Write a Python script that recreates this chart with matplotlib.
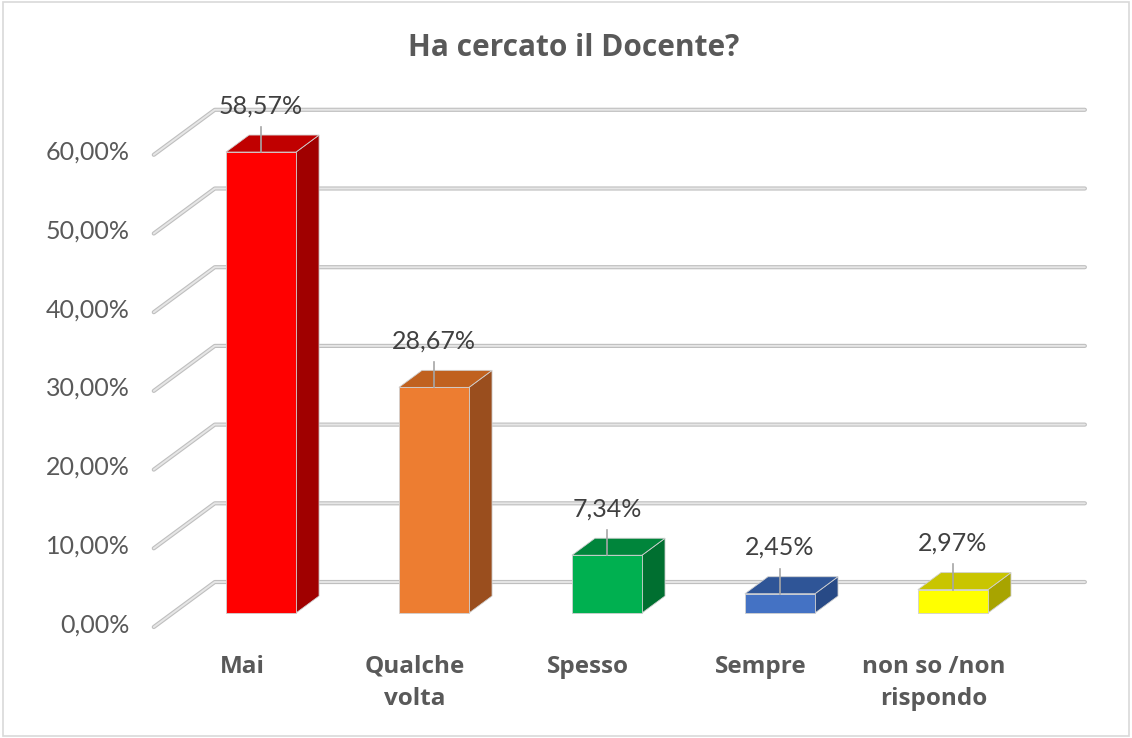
import matplotlib
matplotlib.use("Agg")
import matplotlib.pyplot as plt
from matplotlib.patches import Rectangle

plt.rcParams['font.family'] = ['Lato', 'DejaVu Sans']

# dati
categorie = ['Mai', 'Qualche\nvolta', 'Spesso', 'Sempre', 'non so /non\nrispondo']
valori = [58.57, 28.67, 7.34, 2.45, 2.97]
etichette = ['58,57%', '28,67%', '7,34%', '2,45%', '2,97%']
tick_val = [0, 10, 20, 30, 40, 50, 60]
tick_lab = ['0,00%', '10,00%', '20,00%', '30,00%', '40,00%', '50,00%', '60,00%']

col_front = ['#FF0000', '#ED7D31', '#00B050', '#4472C4', '#FFFF00']
col_top = ['#C00000', '#C0611F', '#00853B', '#2F5597', '#C9C500']
col_side = ['#A00000', '#9A4E1E', '#006F30', '#284A86', '#A8A400']

# profondita' finta 3d (unita' dati)
DX = 0.3526
DY = 5.72
W = 0.405
D0, D1 = 0.311, 0.689
XL, XR = -0.51, 4.52

bold_font = ['Open Sans', 'DejaVu Sans']


def proj(x, v, d):
    return x + d * DX, v + d * DY


fig = plt.figure(figsize=(11.32, 7.38), dpi=100)
ax = fig.add_axes([0, 0, 1, 1])
ax.set_xlim(-1.399, 5.145)
ax.set_ylim(-14.10, 79.67)
ax.axis('off')

# cornice
fig.patches.append(Rectangle((0.003, 0.003), 0.994, 0.994, transform=fig.transFigure,
                             fill=False, edgecolor='#d9d9d9', lw=1.2))

# griglia (parete laterale + fondo)
for v in tick_val:
    p0 = proj(XL, v, 0)
    p1 = proj(XL, v, 1)
    p2 = proj(XR, v, 1)
    ax.plot([p0[0], p1[0], p2[0]], [p0[1], p1[1], p2[1]], color='#bfbfbf', lw=3.0,
            solid_capstyle='round', solid_joinstyle='round', zorder=1)
    ax.plot([p0[0], p1[0], p2[0]], [p0[1], p1[1], p2[1]], color='#e6e6e6', lw=1.4,
            solid_capstyle='round', solid_joinstyle='round', zorder=1.1)

for v, lab in zip(tick_val, tick_lab):
    ax.text(XL - 0.14, v + 0.3, lab, ha='right', va='center', fontsize=18, color='#595959')

# barre
for i, h in enumerate(valori):
    x0, x1 = i - W / 2, i + W / 2
    front = [proj(x0, 0, D0), proj(x1, 0, D0), proj(x1, h, D0), proj(x0, h, D0)]
    top = [proj(x0, h, D0), proj(x1, h, D0), proj(x1, h, D1), proj(x0, h, D1)]
    side = [proj(x1, 0, D0), proj(x1, 0, D1), proj(x1, h, D1), proj(x1, h, D0)]
    for poly, c in ((side, col_side[i]), (top, col_top[i]), (front, col_front[i])):
        xs, ys = zip(*poly)
        ax.fill(xs, ys, color=c, ec='#d0d0d0', lw=0.6, zorder=3)

    cx, cy = proj(i, h, D0)
    ax.plot([cx, cx], [cy, cy + 3.2], color='#a6a6a6', lw=1.2, zorder=4)
    ax.text(cx, cy + 5.9, etichette[i], ha='center', va='center', fontsize=18,
            color='#404040', zorder=5)

    ax.text(i, -3.5, categorie[i], ha='center', va='top', fontsize=17.5, fontweight='bold',
            color='#595959', linespacing=1.45, family=bold_font)

fig.text(0.507, 1 - 48 / 738, 'Ha cercato il Docente?', ha='center', va='center',
         fontsize=21.5, fontweight='bold', color='#595959', family=bold_font)

fig.savefig('out.png', dpi=100)
